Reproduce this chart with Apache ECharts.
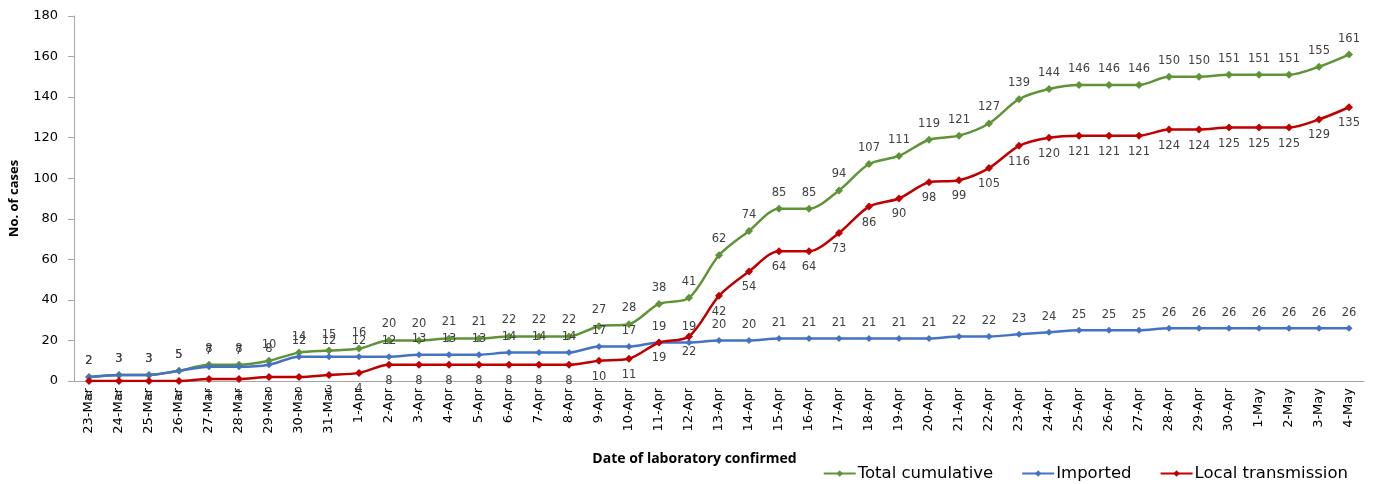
<!DOCTYPE html>
<html>
<head>
<meta charset="utf-8">
<script src="https://cdn.jsdelivr.net/npm/echarts@6/dist/echarts.min.js"></script>
<style>
  html, body { margin: 0; padding: 0; background: #fff; }
  #chart { width: 1375px; height: 484px; }
</style>
</head>
<body>
<div id="chart"></div>
<script>
const dates = [
  "23-Mar", "24-Mar", "25-Mar", "26-Mar", "27-Mar", "28-Mar", "29-Mar", "30-Mar", "31-Mar",
  "1-Apr", "2-Apr", "3-Apr", "4-Apr", "5-Apr", "6-Apr", "7-Apr", "8-Apr", "9-Apr", "10-Apr",
  "11-Apr", "12-Apr", "13-Apr", "14-Apr", "15-Apr", "16-Apr", "17-Apr", "18-Apr", "19-Apr",
  "20-Apr", "21-Apr", "22-Apr", "23-Apr", "24-Apr", "25-Apr", "26-Apr", "27-Apr", "28-Apr",
  "29-Apr", "30-Apr", "1-May", "2-May", "3-May", "4-May"
];
const totalCumulative = [
  2, 3, 3, 5, 8, 8, 10, 14, 15, 16, 20, 20, 21, 21, 22, 22, 22, 27, 28, 38, 41, 62,
  74, 85, 85, 94, 107, 111, 119, 121, 127, 139, 144, 146, 146, 146, 150, 150, 151, 151, 151, 155, 161
];
const imported = [
  2, 3, 3, 5, 7, 7, 8, 12, 12, 12, 12, 13, 13, 13, 14, 14, 14, 17, 17, 19, 19, 20,
  20, 21, 21, 21, 21, 21, 21, 22, 22, 23, 24, 25, 25, 25, 26, 26, 26, 26, 26, 26, 26
];
const localTransmission = [
  0, 0, 0, 0, 1, 1, 2, 2, 3, 4, 8, 8, 8, 8, 8, 8, 8, 10, 11, 19, 22, 42,
  54, 64, 64, 73, 86, 90, 98, 99, 105, 116, 120, 121, 121, 121, 124, 124, 125, 125, 125, 129, 135
];
const yTicks = { min: 0, max: 180, interval: 20 };

const font = "DejaVu Sans";
const chart = echarts.init(document.getElementById("chart"));

const makeSeries = (name, data, color, labelPos, size) => ({
  name: name,
  type: "line",
  data: data,
  smooth: 0.3,
  symbol: "diamond",
  symbolSize: size,
  lineStyle: { color: color, width: 2.5 },
  itemStyle: { color: color },
  label: {
    show: true,
    position: labelPos,
    distance: 6,
    color: "#404040",
    fontFamily: font,
    fontSize: 11.5
  }
});

chart.setOption({
  animation: false,
  grid: { left: 73, right: 11, top: 16, bottom: 103 },
  legend: {
    right: 22,
    top: 460,
    itemWidth: 32,
    itemHeight: 8,
    itemGap: 28,
    textStyle: { fontFamily: font, fontSize: 16.5, color: "#000", padding: [0, 0, 0, -3] },
    data: ["Total cumulative", "Imported", "Local transmission"]
  },
  xAxis: {
    type: "category",
    data: dates,
    boundaryGap: true,
    name: "Date of laboratory confirmed",
    nameLocation: "middle",
    nameGap: 71,
    nameTextStyle: {
      fontFamily: "Open Sans", fontWeight: "bold", fontSize: 14, color: "#000",
      padding: [0, 49, 0, 0]
    },
    axisLine: { lineStyle: { color: "#a6a6a6" } },
    axisTick: { show: false },
    axisLabel: {
      rotate: 90,
      interval: 0,
      fontFamily: font,
      fontSize: 13,
      color: "#000",
      margin: 7
    }
  },
  yAxis: {
    type: "value",
    min: yTicks.min,
    max: yTicks.max,
    interval: yTicks.interval,
    name: "No. of cases",
    nameLocation: "middle",
    nameGap: 53,
    nameTextStyle: { fontFamily: "Open Sans", fontWeight: "bold", fontSize: 13, color: "#000" },
    splitLine: { show: false },
    axisLine: { show: true, lineStyle: { color: "#a6a6a6" } },
    axisTick: { show: true, length: 6, lineStyle: { color: "#a6a6a6" } },
    axisLabel: { fontFamily: font, fontSize: 13, color: "#000", margin: 16 }
  },
  series: [
    makeSeries("Total cumulative", totalCumulative, "#5e9437", "top", 8),
    makeSeries("Imported", imported, "#4472c4", "top", 7),
    makeSeries("Local transmission", localTransmission, "#c00000", "bottom", 8)
  ]
});
</script>
</body>
</html>
